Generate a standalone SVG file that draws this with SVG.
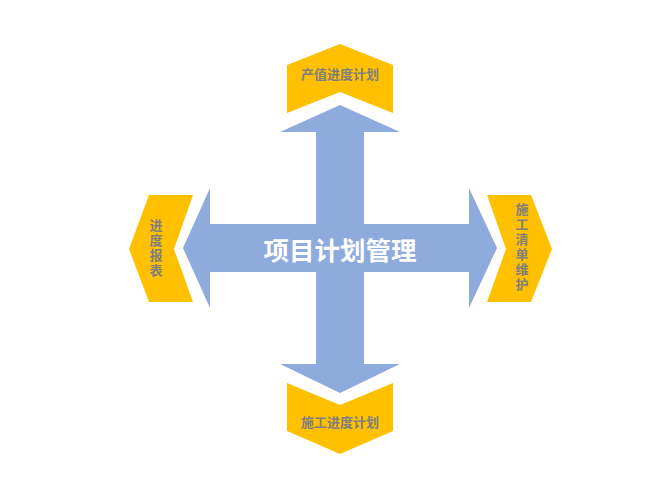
<svg xmlns="http://www.w3.org/2000/svg" width="672" height="502" viewBox="0 0 672 502">
<style>
.arrow{fill:#8FAADC;}
.chev{fill:#FFC000;}
.lbl{font-family:"Noto Sans CJK SC","Liberation Sans",sans-serif;font-weight:bold;font-size:13px;fill:#7F7F7F;text-anchor:middle;dominant-baseline:central;}
.vlbl{font-family:"Noto Sans CJK SC","Liberation Sans",sans-serif;font-weight:bold;font-size:13px;fill:#7F7F7F;text-anchor:middle;writing-mode:vertical-rl;letter-spacing:2px;}
.center{font-family:"Noto Sans CJK SC","Liberation Sans",sans-serif;font-weight:bold;font-size:25.5px;fill:#FFFFFF;text-anchor:middle;dominant-baseline:central;}
</style>
<rect width="672" height="502" fill="#FFFFFF"/>
<g id="connectors">
<polygon class="arrow" points="340,105 400,132 364,132 364,224 469,224 469,188 497,248 469,308 469,272 364,272 364,364 400,364 340,393 280,364 316,364 316,272 210,272 210,308 183,248 210,188 210,224 316,224 316,132 280,132"/>
</g>
<g id="center">
<text class="center" x="340" y="248">项目计划管理</text>
</g>
<g id="top">
<polygon class="chev" points="287,65 340,44 393,65 393,113 340,92 287,113"/>
<text class="lbl" x="340" y="73">产值进度计划</text>
</g>
<g id="bottom">
<polygon class="chev" points="287,383 340,405 393,383 393,431 340,454 287,431"/>
<text class="lbl" x="340" y="421">施工进度计划</text>
</g>
<g id="left">
<polygon class="chev" points="149,195 193,195 174,249 193,302 149,302 129,249"/>
<text class="vlbl" x="156" y="249">进度报表</text>
</g>
<g id="right">
<polygon class="chev" points="487,195 531,195 552,249 531,302 487,302 506,249"/>
<text class="vlbl" x="522" y="248">施工清单维护</text>
</g>
</svg>
